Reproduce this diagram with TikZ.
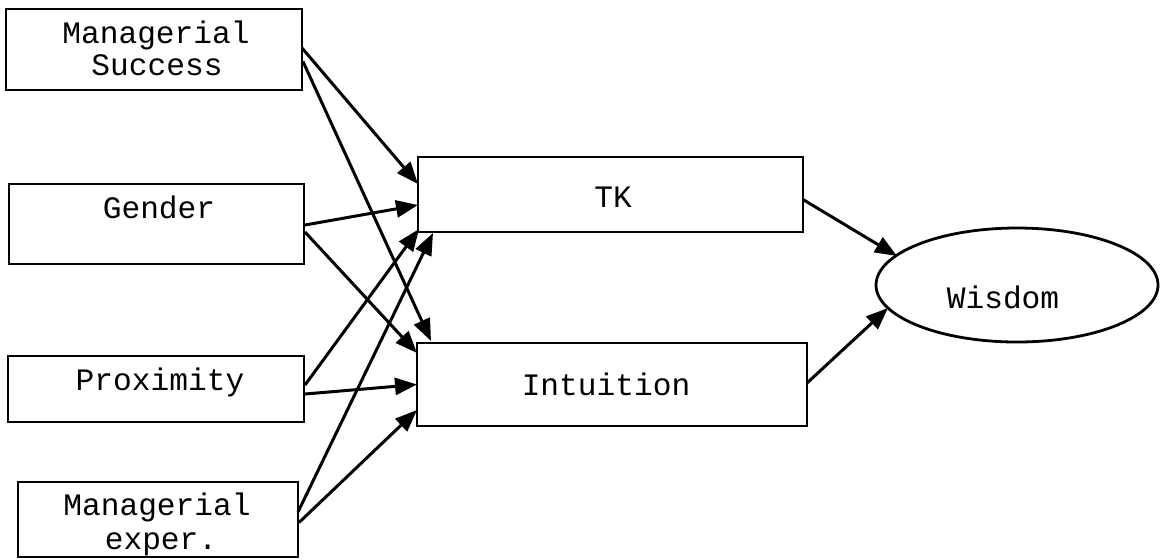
\documentclass[tikz,border=0pt]{standalone}
\usepackage{fontspec}
\setmonofont{Liberation Mono}
\usetikzlibrary{arrows.meta,calc,shapes.geometric}
\begin{document}
\begin{tikzpicture}[x=0.5pt,y=-0.5pt,
  box/.style={draw,line width=1.4pt,rectangle,inner sep=0pt,outer sep=0pt},
  oval/.style={draw,line width=1.4pt,ellipse,inner sep=0pt,outer sep=0pt,
    minimum width=141pt,minimum height=57pt},
  lbl/.style={anchor=base,inner sep=0pt,font=\ttfamily\fontsize{15.6}{16}\selectfont},
  link/.style={line width=1.5pt,-{Triangle[length=11pt,width=8.5pt]}}]
\useasboundingbox (0,0) rectangle (1160,559);

% predictor boxes
\node[box,minimum width=148pt,minimum height=40.5pt] (ms)   at (154,49.5) {};
\node[box,minimum width=147.5pt,minimum height=40pt] (gen)  at (156.5,224) {};
\node[box,minimum width=148pt,minimum height=33pt]   (prox) at (156,389) {};
\node[box,minimum width=140pt,minimum height=37.5pt] (mexp) at (158,519.5) {};

% mediators and outcome
\node[box,minimum width=192.5pt,minimum height=37.5pt] (tk)  at (610.5,194.5) {};
\node[box,minimum width=195pt,minimum height=41.5pt]   (int) at (612,384.5) {};
\node[oval] (wis) at (1017,285) {};

% labels
\node[lbl] (ms1)   at (156,43)  {Managerial};
\node[lbl] (ms2)   at (157,75)  {Success};
\node[lbl] (gen1)  at (159,218) {Gender};
\node[lbl] (prox1) at (160,390) {Proximity};
\node[lbl] (mexp1) at (157,515) {Managerial};
\node[lbl] (mexp2) at (161,549) {exper.};
\node[lbl] (tk1)   at (613,207) {TK};
\node[lbl] (int1)  at (606,395) {Intuition};
\node[lbl] (wis1)  at (1003,308) {Wisdom};

% paths from predictors
\draw[link] ($(ms.east)+(0,-1.5)$) -- ($(tk.west)+(0,-10.5)$);
\draw[link] ($(ms.east)+(1,12)$)   -- ($(int.north west)+(14,-2)$);
\draw[link] ($(gen.east)+(1,1)$)   -- ($(tk.west)+(0,10.5)$);
\draw[link] ($(gen.east)+(1,8)$)   -- ($(int.west)+(0,-31.5)$);
\draw[link] ($(prox.east)+(1,-4)$) -- ($(tk.south west)+(1,-3)$);
\draw[link] ($(prox.east)+(1,5)$)  -- (int.west);
\draw[link] ($(mexp.east)+(0,-7.5)$) -- ($(tk.south west)+(15,1)$);
\draw[link] ($(mexp.east)+(1,3)$)  -- ($(int.west)+(0,25.5)$);

% paths to the outcome
\draw[link] ($(tk.east)+(0,5)$)    -- ($(wis.center)+(-120,-29)$);
\draw[link] ($(int.east)+(0,-1.5)$) -- ($(wis.center)+(-129,23)$);
\end{tikzpicture}
\end{document}
